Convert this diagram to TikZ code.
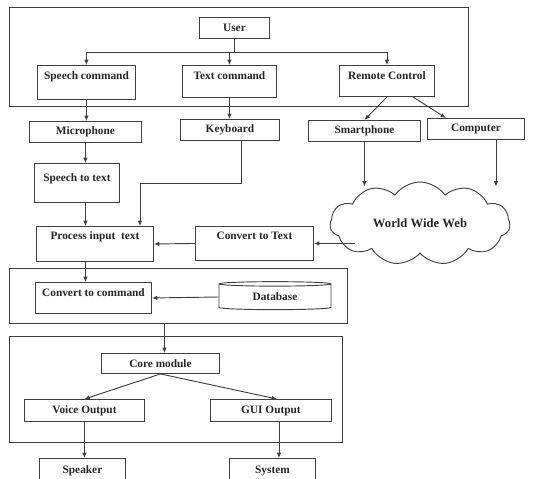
\documentclass[tikz,border=0pt]{standalone}
\usepackage{fontspec}
\setmainfont{Liberation Serif}
\definecolor{linegray}{HTML}{404040}
\usetikzlibrary{arrows.meta, shapes.geometric, shapes.symbols, fit}
\newcommand{\px}{0.75pt}
\newcommand{\branch}[3]
{
	\draw[->] (#3.south) -- +(0,#1) -| (#2.north)
}

\begin{document}
\begin{tikzpicture}[x=\px, y=-\px, line width=0.7pt, draw=linegray, >={Latex[length=4pt,width=3.4pt]},
	every node/.append style={font=\fontsize{8.5}{10}\selectfont\bfseries, text=black!85},
	box/.style 2 args={draw, rectangle, inner sep=0pt, anchor=north west, minimum width=#1*\px, minimum height=#2*\px},
	topbox/.style n args={3}{draw, rectangle, inner sep=0pt, anchor=north west, minimum width=#1*\px, text height=#3*\px, text depth=(#2-#3)*\px},
	frame/.style={draw, inner sep=0pt}]
	\useasboundingbox (0,0) rectangle (533,479);
	% frames
	\node[frame, fit={(9,7) (468,106)}] (topframe) {};
	\node[frame, fit={(9,268) (347,323)}] (midframe) {};
	\node[frame, fit={(9,336) (342,442)}] (lowframe) {};
	% input side
	\node[box={70}{21}] (user) at (199,17) {User};
	\node[topbox={98}{34}{14}] (speech) at (37,65) {Speech command};
	\node[topbox={94}{32}{14}] (textcmd) at (182,65) {Text command};
	\node[topbox={95}{31}{14}] (remote) at (339,65) {Remote Control};
	\node[box={112}{21}] (mic) at (29,121) {Microphone};
	\node[box={99}{21}] (keyb) at (180,119) {Keyboard};
	\node[box={112}{21}] (smart) at (308,120) {Smartphone};
	\node[box={97}{21}] (comp) at (427,118) {Computer};
	\node[topbox={85}{39}{18}] (stt) at (34,163) {Speech to text};
	\node[topbox={117}{35}{13}] (proc) at (36,226) {Process input\ \ text};
	\node[topbox={118}{34}{13}] (ctt) at (195,226) {Convert to Text};
	\node[cloud, draw, cloud puffs=11, cloud puff arc=110, aspect=2.2, inner sep=0pt,
		minimum width=180*\px, minimum height=83*\px, font=\fontsize{9.5}{11}\selectfont\bfseries] (web) at (420,223.5) {World Wide Web};
	% processing side
	\node[topbox={116}{31}{14}] (ctc) at (35,282) {Convert to command};
	\node[cylinder, draw, shape border rotate=90, aspect=0.1, inner sep=0pt,
		minimum width=112*\px, minimum height=28*\px] (db) at (275,297) {Database};
	\node[box={118}{20}] (core) at (101,353) {Core module};
	\node[box={120}{22}] (voice) at (24,399) {Voice Output};
	\node[box={121}{22}] (gui) at (210,399) {GUI Output};
	\node[box={86}{24}] (spk) at (39,458) {Speaker};
	\node[box={86}{24}] (sys) at (229,458) {System};
	% connectors
	\foreach \t in {speech,textcmd,remote}
		\branch{14}{\t}{user};
	\draw[->] (speech.south) -- (speech.south |- mic.north);
	\draw[->] (textcmd.south) -- (textcmd.south |- keyb.north);
	\draw[->] (remote.south) -- (smart.north);
	\draw[->] ([xshift=26*\px]remote.south) -- ([xshift=-30*\px]comp.north);
	\coordinate (webtop) at ([yshift=-5*\px]web.north);
	\draw[->] (smart.south) -- (smart.south |- webtop);
	\coordinate (compout) at ([xshift=20*\px]comp.south);
	\draw[->] (compout) -- (compout |- webtop);
	\draw[->] (mic.south) -- (mic.south |- stt.north);
	\draw[->] (mic.south |- stt.south) -- (mic.south |- proc.north);
	\coordinate (keybout) at ([xshift=11*\px]keyb.south);
	\draw[->] (keybout) -- +(0,43) -| ([xshift=45*\px]proc.north);
	\draw[->] (web.west |- ctt.east) ++(25,0) -- (ctt.east);
	\draw[->] (ctt.west) -- (proc.east);
	\draw[->] (mic.south |- proc.south) -- (mic.south |- ctc.north);
	\draw[->] (db.west) -- (ctc.east);
	\coordinate (corein) at ([xshift=4*\px]core.north);
	\draw[->] (corein |- midframe.south) -- (corein);
	\draw[->] (core.south) -- (voice.north);
	\draw[->] (core.south) -- ([xshift=6*\px]gui.north);
	\draw[->] (voice.south) -- (voice.south |- spk.north);
	\coordinate (guiout) at ([xshift=8*\px]gui.south);
	\draw[->] (guiout) -- (guiout |- sys.north);
\end{tikzpicture}
\end{document}
